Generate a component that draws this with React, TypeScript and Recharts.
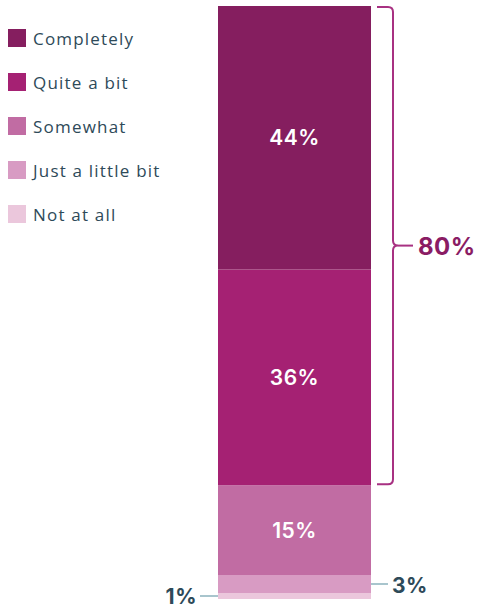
import React from "react";
import { BarChart, Bar, XAxis, YAxis, LabelList, Legend } from "recharts";

const categories = ["All respondents"];
const notAtAll = [1];
const justALittle = [3];
const somewhat = [15];
const quiteABit = [36];
const completely = [44];
const braceTotal = "80%";

const seriesNames = ["Not at all", "Just a little bit", "Somewhat", "Quite a bit", "Completely"];
const seriesColors = ["#ebc7dc", "#d89bc3", "#c16ca3", "#a52173", "#851e5f"];
const legendOrder = [4, 3, 2, 1, 0];

const FONT = "Inter, 'Noto Sans', sans-serif";
const LEGEND_FONT = "'Open Sans', 'Noto Sans', sans-serif";
const TEXT = "#2e4a59";
const LEADER = "#a8c5cd";

const data = categories.map((c, i) => ({
  name: c,
  notAtAll: notAtAll[i],
  justALittle: justALittle[i],
  somewhat: somewhat[i],
  quiteABit: quiteABit[i],
  completely: completely[i],
}));

const keys = ["notAtAll", "justALittle", "somewhat", "quiteABit", "completely"];

function InsideLabel(props: any) {
  const { x, y, width, height, value } = props;
  return (
    <text
      x={x + width / 2}
      y={y + height / 2}
      fill="#fff"
      fontFamily={FONT}
      fontWeight={600}
      fontSize={21}
      letterSpacing={0.5}
      textAnchor="middle"
      dominantBaseline="central"
    >
      {value}%
    </text>
  );
}

function RightLeader(props: any) {
  const { x, y, width, height, value } = props;
  const cy = y + height / 2;
  const x0 = x + width;
  return (
    <g>
      <line x1={x0} y1={cy} x2={x0 + 17} y2={cy} stroke={LEADER} strokeWidth={2} />
      <text x={x0 + 21} y={cy + 1} fill={TEXT} fontFamily={FONT} fontWeight={700} fontSize={21} letterSpacing={0.5} dominantBaseline="central">
        {value}%
      </text>
    </g>
  );
}

function LeftLeader(props: any) {
  const { x, y, height, value } = props;
  const cy = y + height / 2;
  return (
    <g>
      <line x1={x} y1={cy} x2={x - 18} y2={cy} stroke={LEADER} strokeWidth={2} />
      <text x={x - 21} y={cy} fill={TEXT} fontFamily={FONT} fontWeight={700} fontSize={21} letterSpacing={0.5} textAnchor="end" dominantBaseline="central">
        {value}%
      </text>
    </g>
  );
}

// drawn from the "Quite a bit" segment; top of brace is the top of the stack above it
function Brace(props: any) {
  const { x, y, width, height, index } = props;
  const perUnit = height / quiteABit[index];
  const bottom = y + height - 1;
  const top = y - completely[index] * perUnit + 1;
  const mid = (top + bottom) / 2;
  const xl = x + width + 6;
  const xv = xl + 16;
  const r = 5;
  const d = [
    `M ${xl} ${top}`,
    `L ${xv - r} ${top}`,
    `Q ${xv} ${top} ${xv} ${top + r}`,
    `L ${xv} ${mid - 5}`,
    `Q ${xv} ${mid} ${xv + 5} ${mid}`,
    `Q ${xv} ${mid} ${xv} ${mid + 5}`,
    `L ${xv} ${bottom - r}`,
    `Q ${xv} ${bottom} ${xv - r} ${bottom}`,
    `L ${xl} ${bottom}`,
  ].join(" ");
  return (
    <g>
      <path d={d} fill="none" stroke="#a83182" strokeWidth={2} />
      <line x1={xv + 5} y1={mid} x2={xv + 20} y2={mid} stroke="#a83182" strokeWidth={2} />
      <text x={xv + 25} y={mid + 1} fill="#8a1c64" fontFamily={FONT} fontWeight={700} fontSize={24} letterSpacing={0.5} dominantBaseline="central">
        {braceTotal}
      </text>
    </g>
  );
}

function LegendBox() {
  return (
    <div style={{ fontFamily: LEGEND_FONT }}>
      {legendOrder.map((i) => (
        <div key={i} style={{ display: "flex", alignItems: "center", height: 44 }}>
          <span style={{ width: 18, height: 18, background: seriesColors[i], display: "inline-block", marginRight: 7, flex: "none" }} />
          <span style={{ fontSize: 17, color: TEXT, letterSpacing: 1.2, whiteSpace: "nowrap" }}>{seriesNames[i]}</span>
        </div>
      ))}
    </div>
  );
}

export default function App() {
  return (
    <div style={{ position: "fixed", left: 0, top: 0, width: 481, height: 604, background: "#fff" }}>
      <BarChart
        width={481}
        height={604}
        data={data}
        margin={{ top: 6, right: 110, bottom: 5, left: 218 }}
        barCategoryGap={0}
      >
        <XAxis dataKey="name" hide />
        <YAxis hide domain={[0, 99]} />
        <Legend
          layout="vertical"
          align="center"
          verticalAlign="middle"
          content={<LegendBox />}
          wrapperStyle={{ left: 8, top: 16, width: 200 }}
        />
        {keys.map((k, i) => (
          <Bar key={k} dataKey={k} stackId="a" fill={seriesColors[i]} isAnimationActive={false}>
            {i === 0 && <LabelList dataKey={k} content={<LeftLeader />} />}
            {i === 1 && <LabelList dataKey={k} content={<RightLeader />} />}
            {i >= 2 && <LabelList dataKey={k} content={<InsideLabel />} />}
            {i === 3 && <LabelList dataKey={k} content={<Brace />} />}
          </Bar>
        ))}
      </BarChart>
    </div>
  );
}
